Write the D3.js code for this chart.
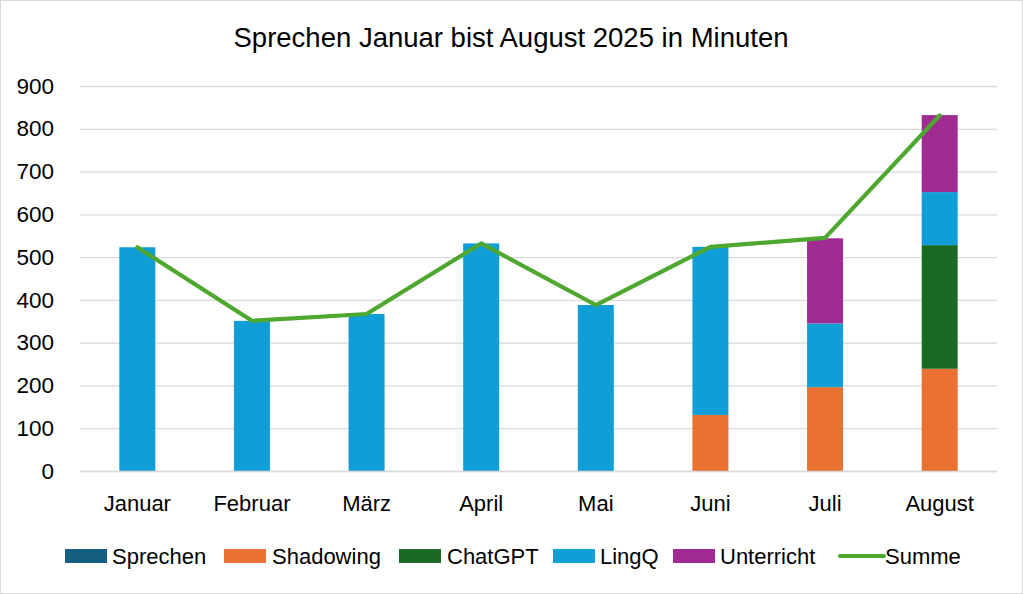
<!DOCTYPE html>
<html><head><meta charset="utf-8">
<script src="https://cdn.jsdelivr.net/npm/d3@7"></script>
<style>body{margin:0;background:#fff}svg{display:block}</style>
</head><body>
<svg id="c" width="1023" height="594"></svg>
<script>
const months = ["Januar","Februar","März","April","Mai","Juni","Juli","August"];
const seriesNames = ["Sprechen","Shadowing","ChatGPT","LingQ","Unterricht"];
const sprechen   = [0,0,0,0,0,0,0,0];
const shadowing  = [0,0,0,0,0,131,196,239];
const chatgpt    = [0,0,0,0,0,0,0,289];
const lingq      = [523,351,367,532,388,393,149,124];
const unterricht = [0,0,0,0,0,0,199,180];
const summe      = [523,351,367,532,388,524,545,831];
const yTicks = [0,100,200,300,400,500,600,700,800,900];
const colors = ["#156082","#E97132","#196B24","#0F9ED5","#A02B93"];
const lineColor = "#4EA72E";

const svg = d3.select("#c");
const W = 1023, H = 594;
const font = "'Liberation Sans', Arial, sans-serif";
svg.append("rect").attr("x",0.5).attr("y",0.5).attr("width",W-1).attr("height",H-1)
  .attr("fill","#fff").attr("stroke","#d9d9d9");

const x = d3.scaleBand().domain(months).range([80,997]).paddingInner(0.686).paddingOuter(0.343);
const y = d3.scaleLinear().domain([0,900]).range([471,86]);

svg.append("text").attr("x",511).attr("y",47).attr("text-anchor","middle")
  .attr("font-family",font).attr("font-size",27.5).attr("fill","#000")
  .text("Sprechen Januar bist August 2025 in Minuten");

// gridlines
const yAxis = d3.axisLeft(y).tickValues(yTicks).tickSize(-(997-80)).tickPadding(26);
const gy = svg.append("g").attr("transform","translate(80,0)").call(yAxis);
gy.select(".domain").remove();
gy.selectAll(".tick line").attr("stroke","#d9d9d9").attr("stroke-width",1.3);
gy.selectAll(".tick text").attr("font-family",font).attr("font-size",22.5).attr("fill","#000");

// stacked data
const rows = months.map((m,i)=>({month:m, Sprechen:sprechen[i], Shadowing:shadowing[i], ChatGPT:chatgpt[i], LingQ:lingq[i], Unterricht:unterricht[i]}));
const stack = d3.stack().keys(seriesNames)(rows);
svg.append("g").selectAll("g").data(stack).join("g")
  .attr("fill",(d,i)=>colors[i])
  .selectAll("rect").data(d=>d).join("rect")
  .attr("x",d=>x(d.data.month)).attr("width",x.bandwidth())
  .attr("y",d=>y(d[1])).attr("height",d=>Math.max(0,y(d[0])-y(d[1])));

// x axis line
svg.append("line").attr("x1",80).attr("x2",997).attr("y1",471.5).attr("y2",471.5).attr("stroke","#d9d9d9").attr("stroke-width",1.3);
const xAxis = d3.axisBottom(x).tickSize(0).tickPadding(24);
const gx = svg.append("g").attr("transform","translate(0,471)").call(xAxis);
gx.select(".domain").remove();
gx.selectAll(".tick text").attr("font-family",font).attr("font-size",22).attr("fill","#000");

// sum line
const line = d3.line().x((d,i)=>x(months[i])+x.bandwidth()/2).y(d=>y(d));
svg.append("path").datum(summe).attr("d",line).attr("fill","none")
  .attr("stroke",lineColor).attr("stroke-width",4.2).attr("stroke-linejoin","round").attr("stroke-linecap","round");

// legend
const legendItems = [
  {name:"Sprechen", x:65, tx:112, type:"rect", c:colors[0]},
  {name:"Shadowing", x:224, tx:272, type:"rect", c:colors[1]},
  {name:"ChatGPT", x:399, tx:447, type:"rect", c:colors[2]},
  {name:"LingQ", x:553, tx:600, type:"rect", c:colors[3]},
  {name:"Unterricht", x:673, tx:720, type:"rect", c:colors[4]},
  {name:"Summe", x:840, tx:885, type:"line", c:lineColor}
];
const lg = svg.append("g");
legendItems.forEach(it=>{
  if(it.type==="rect"){
    lg.append("rect").attr("x",it.x).attr("y",549).attr("width",42).attr("height",14).attr("fill",it.c);
  } else {
    lg.append("line").attr("x1",it.x).attr("x2",it.x+44).attr("y1",556).attr("y2",556).attr("stroke",it.c).attr("stroke-width",4).attr("stroke-linecap","round");
  }
  lg.append("text").attr("x",it.tx).attr("y",564).attr("font-family",font).attr("font-size",22).attr("fill","#000").text(it.name);
});
</script>
</body></html>
